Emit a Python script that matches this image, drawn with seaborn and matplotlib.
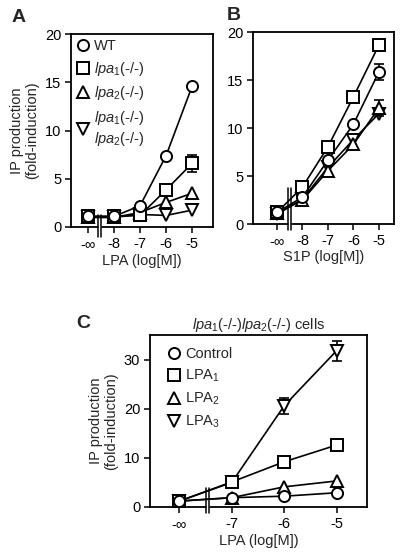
import matplotlib
matplotlib.use("Agg")
import matplotlib.pyplot as plt
import seaborn as sns
import numpy as np
from matplotlib.lines import Line2D

sns.set_style("ticks")
plt.rcParams['font.family'] = ['Liberation Sans', 'DejaVu Sans']
plt.rcParams['mathtext.fontset'] = 'custom'
plt.rcParams['mathtext.rm'] = 'Liberation Sans'
plt.rcParams['mathtext.it'] = 'Liberation Sans:italic'
plt.rcParams['mathtext.bf'] = 'Liberation Sans:bold'

# ---------------- data ----------------
x_ab = [-9, -8, -7, -6, -5]
x_ab_labels = ["-\u221e", "-8", "-7", "-6", "-5"]
x_c = [-8, -7, -6, -5]
x_c_labels = ["-\u221e", "-7", "-6", "-5"]

a_labels = [r"WT", r"$\mathit{lpa}_{\mathit{1}}$(-/-)", r"$\mathit{lpa}_{\mathit{2}}$(-/-)",
            "$\\mathit{lpa}_{\\mathit{1}}$(-/-)\n$\\mathit{lpa}_{\\mathit{2}}$(-/-)"]
a_wt = [1.1, 1.1, 2.2, 7.4, 14.6]
a_lpa1 = [1.1, 1.1, 1.2, 3.85, 6.6]
a_lpa2 = [1.0, 1.0, 1.5, 2.55, 3.5]
a_lpa12 = [1.0, 1.0, 1.3, 1.2, 1.75]
a_err_lpa1 = [0, 0, 0, 0, 0.9]

b_wt = [1.2, 2.8, 6.65, 10.4, 15.85]
b_lpa1 = [1.2, 3.85, 8.05, 13.25, 18.65]
b_lpa2 = [1.1, 2.5, 5.55, 8.3, 12.1]
b_lpa12 = [1.0, 2.6, 5.9, 8.8, 11.5]
b_err_wt = [0, 0, 0, 0, 0.85]
b_err_lpa2 = [0, 0, 0, 0, 0.85]

c_labels = ["Control", "LPA$_1$", "LPA$_2$", "LPA$_3$"]
c_control = [1.2, 1.9, 2.2, 2.9]
c_lpa1 = [1.2, 5.1, 9.2, 12.6]
c_lpa2 = [1.2, 1.9, 4.1, 5.3]
c_lpa3 = [1.2, 5.0, 20.6, 31.8]
c_err_lpa3 = [0, 0, 1.6, 2.0]

markers = ['o', 's', '^', 'v']
MS = 8

fig = plt.figure(figsize=(4.02, 5.58), dpi=100)
axA = fig.add_axes([71/402, 1-227/558, 142/402, 193/558])
axB = fig.add_axes([253/402, 1-224/558, 141/402, 192/558])
axC = fig.add_axes([150/402, 1-507/558, 217/402, 172/558])


def draw_series(ax, xs, series, errs=None):
    for i, ys in enumerate(series):
        z = 4 - i * 0.3
        if errs is not None and errs[i] is not None:
            e = np.array(errs[i], dtype=float)
            mask = e > 0
            ax.errorbar(np.array(xs)[mask], np.array(ys)[mask], yerr=e[mask],
                        fmt='none', ecolor='black', elinewidth=1.2, capsize=3.5,
                        capthick=1.2, zorder=z - 0.1)
        sns.lineplot(x=xs, y=ys, ax=ax, color='black', linewidth=1.2,
                     marker=markers[i], markersize=MS, markerfacecolor='white',
                     markeredgecolor='black', markeredgewidth=1.4, legend=False,
                     zorder=z)


def style_axis(ax, xs, xl, xlim, ylim, yticks):
    ax.set_xlim(*xlim)
    ax.set_ylim(*ylim)
    ax.set_xticks(xs)
    ax.set_xticklabels(xl)
    ax.set_yticks(yticks)
    for s in ax.spines.values():
        s.set_visible(True)
        s.set_linewidth(1.3)
        s.set_color('black')
    ax.tick_params(direction='out', length=4, width=1.1, labelsize=10.5,
                   colors='black', pad=3)
    ax.set_xlabel("")
    ax.set_ylabel("")


def draw_break(ax, bx, d, y0, y1):
    tr = ax.get_xaxis_transform()
    ax.plot([bx - d, bx + d], [0, 0], color='white', lw=2.5, transform=tr,
            clip_on=False, zorder=5, solid_capstyle='butt')
    for xx in (bx - d, bx + d):
        ax.plot([xx, xx], [y0, y1], color='black', lw=1.1, transform=tr,
                clip_on=False, zorder=6)


# Panel A
draw_series(axA, x_ab, [a_wt, a_lpa1, a_lpa2, a_lpa12],
            errs=[None, a_err_lpa1, None, None])
style_axis(axA, x_ab, x_ab_labels, (-9.65, -4.2), (0, 20), [0, 5, 10, 15, 20])
draw_break(axA, -8.54, 0.06, -0.052, 0.062)
axA.set_xlabel("LPA (log[M])", fontsize=10.5, labelpad=2)
axA.set_ylabel("IP production\n(fold-induction)", fontsize=10.5, labelpad=4,
               linespacing=1.1)
hA = [Line2D([], [], linestyle='none', marker=m, markersize=MS,
             markerfacecolor='white', markeredgecolor='black',
             markeredgewidth=1.4) for m in markers]
axA.legend(hA, a_labels, loc='upper left', frameon=False, fontsize=10.5,
           handlelength=0.8, handletextpad=0.35, labelspacing=0.45,
           borderaxespad=0.1, bbox_to_anchor=(-0.01, 1.01))

# Panel B
draw_series(axB, x_ab, [b_wt, b_lpa1, b_lpa2, b_lpa12],
            errs=[b_err_wt, None, b_err_lpa2, None])
style_axis(axB, x_ab, x_ab_labels, (-9.94, -4.41), (0, 20), [0, 5, 10, 15, 20])
draw_break(axB, -8.5, 0.06, -0.03, 0.19)
axB.set_xlabel("S1P (log[M])", fontsize=10.5, labelpad=2)

# Panel C
draw_series(axC, x_c, [c_control, c_lpa1, c_lpa2, c_lpa3],
            errs=[None, None, None, c_err_lpa3])
style_axis(axC, x_c, x_c_labels, (-8.56, -4.42), (0, 35), [0, 10, 20, 30])
draw_break(axC, -7.46, 0.03, -0.035, 0.11)
axC.set_xlabel("LPA (log[M])", fontsize=10.5, labelpad=2)
axC.set_ylabel("IP production\n(fold-induction)", fontsize=10.5, labelpad=4,
               linespacing=1.1)
axC.set_title(r"$\mathit{lpa}_{\mathit{1}}$(-/-)$\mathit{lpa}_{\mathit{2}}$(-/-) cells",
              fontsize=10.5, pad=4)
axC.legend(hA, c_labels, loc='upper left', frameon=False, fontsize=10.5,
           handlelength=0.8, handletextpad=0.35, labelspacing=0.45,
           borderaxespad=0.1, bbox_to_anchor=(0.05, 0.97))

# panel letters
fig.text(12/402, 1-17/558, "A", fontsize=14, fontweight='heavy', va='center', ha='left')
fig.text(227/402, 1-15/558, "B", fontsize=14, fontweight='heavy', va='center', ha='left')
fig.text(76/402, 1-323/558, "C", fontsize=14, fontweight='heavy', va='center', ha='left')

fig.savefig("out.png", dpi=100, facecolor='white')
